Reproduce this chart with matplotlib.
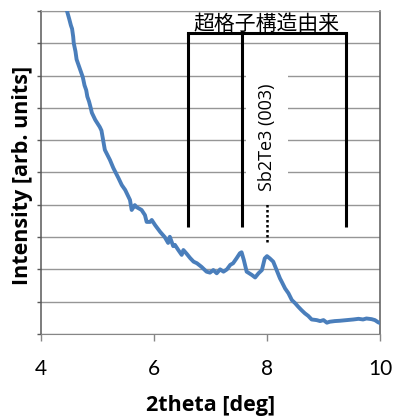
import matplotlib
matplotlib.use("Agg")
import matplotlib.pyplot as plt

# ---- data ----
two_theta = [4.42, 4.46, 4.50, 4.53, 4.55, 4.57, 4.58, 4.61, 4.63, 4.66, 4.69, 4.72, 4.74,
             4.77, 4.80, 4.82, 4.85, 4.88, 4.90, 4.96, 5.04, 5.07, 5.10, 5.13, 5.22, 5.28,
             5.37, 5.43, 5.49, 5.575, 5.605, 5.66, 5.69, 5.72, 5.78, 5.84, 5.87, 5.93, 5.96,
             6.02, 6.11, 6.19, 6.25, 6.28, 6.34, 6.37, 6.43, 6.49, 6.52, 6.58, 6.64, 6.70,
             6.76, 6.84, 6.93, 6.99, 7.05, 7.11, 7.17, 7.23, 7.29, 7.35, 7.40, 7.46, 7.52,
             7.55, 7.59, 7.64, 7.73, 7.79, 7.85, 7.91, 7.96, 8.00, 8.05, 8.11, 8.17, 8.23,
             8.26, 8.32, 8.38, 8.44, 8.50, 8.55, 8.61, 8.67, 8.73, 8.79, 8.88, 8.94, 9.00,
             9.06, 9.11, 9.20, 9.29, 9.41, 9.53, 9.62, 9.70, 9.76, 9.85, 9.91, 9.97, 10.0]
intensity = [10.3, 10.0, 9.75, 9.55, 9.45, 9.2, 9.0, 8.75, 8.5, 8.35, 8.2, 8.05, 7.95,
             7.7, 7.55, 7.35, 7.2, 7.0, 6.85, 6.63, 6.41, 6.30, 6.0, 5.70, 5.39, 5.14,
             4.83, 4.61, 4.46, 4.15, 3.84, 3.99, 3.93, 3.90, 3.84, 3.68, 3.47, 3.47, 3.53,
             3.37, 3.16, 3.00, 2.82, 3.01, 2.72, 2.76, 2.60, 2.45, 2.60, 2.48, 2.35, 2.24,
             2.19, 2.08, 1.93, 1.90, 1.98, 1.88, 2.00, 1.93, 2.00, 2.14, 2.19, 2.34, 2.50,
             2.53, 2.29, 1.93, 1.83, 1.75, 1.88, 1.98, 2.34, 2.41, 2.34, 2.24, 1.98, 1.72,
             1.62, 1.41, 1.26, 1.05, 0.95, 0.85, 0.74, 0.64, 0.56, 0.45, 0.43, 0.40, 0.43,
             0.35, 0.38, 0.40, 0.41, 0.43, 0.45, 0.47, 0.45, 0.48, 0.46, 0.43, 0.36, 0.34]

x_ticks = [4, 6, 8, 10]
x_tick_labels = ["4", "6", "8", "10"]
y_grid = list(range(0, 11))
bracket_x = [6.60, 7.55, 9.39]
bracket_top = 9.32
bracket_bottom = 3.32
bracket_label = "超格子構造由来"
peak_x = 8.0
peak_label = "Sb2Te3 (003)"

plt.rcParams['font.family'] = ['Lato', 'Noto Sans CJK JP', 'DejaVu Sans']

fig = plt.figure(figsize=(3.96, 4.16), dpi=100)
ax = fig.add_axes([41/396, 1-334/416, 339/396, 323/416])

ax.set_xlim(4, 10)
ax.set_ylim(0, 10)

ax.set_yticks(y_grid)
ax.tick_params(axis='y', direction='out', length=3, width=1, color='#595959', labelleft=False)

ax.set_xticks(x_ticks)
ax.set_xticklabels(x_tick_labels, fontsize=15)
ax.tick_params(axis='x', direction='out', length=5, width=1, color='#868686', pad=13)

# gridlines drawn explicitly
for gy in y_grid:
    ax.axhline(gy, color='#969696', linewidth=1.0, zorder=1, snap=True)

for s in ['left', 'right']:
    ax.spines[s].set_color('#595959')
    ax.spines[s].set_linewidth(1.1)
ax.spines['bottom'].set_color('#868686')
ax.spines['top'].set_color('#969696')

# curve
ax.plot(two_theta, intensity, color='#4a7ebb', linewidth=2.8, zorder=3, clip_on=True,
        solid_joinstyle='round')

# bracket
ax.plot([bracket_x[0], bracket_x[-1]], [bracket_top, bracket_top], color='black', lw=2.2, zorder=4)
for bx in bracket_x:
    ax.plot([bx, bx], [bracket_bottom, bracket_top], color='black', lw=2.2, zorder=4,
            solid_capstyle='butt')
ax.text((bracket_x[0] + bracket_x[-1]) / 2, 9.6, bracket_label, ha='center', va='center',
        fontsize=15, family=['Noto Sans CJK JP', 'DejaVu Sans'], zorder=5)

# peak marker
ax.plot([peak_x, peak_x], [2.85, 4.06], color='black', lw=1.8, linestyle=(0, (1, 1)), zorder=4)
ax.text(peak_x, 6.1, peak_label, rotation=90, ha='center', va='center', fontsize=13,
        family=['Open Sans', 'DejaVu Sans'], zorder=5,
        bbox=dict(boxstyle='square,pad=0.65', facecolor='white', edgecolor='none'))

ax.set_xlabel('2theta [deg]', fontsize=15.5, fontweight='bold', family=['Open Sans', 'DejaVu Sans'])
ax.xaxis.set_label_coords(0.5, -0.22)
ax.xaxis.label.set_va('center')
ax.set_ylabel('Intensity [arb. units]', fontsize=15.5, fontweight='bold', family=['Open Sans', 'DejaVu Sans'])
ax.yaxis.set_label_coords(-0.055, 0.49)
ax.yaxis.label.set_va('center')

fig.savefig('out.png', dpi=100)
